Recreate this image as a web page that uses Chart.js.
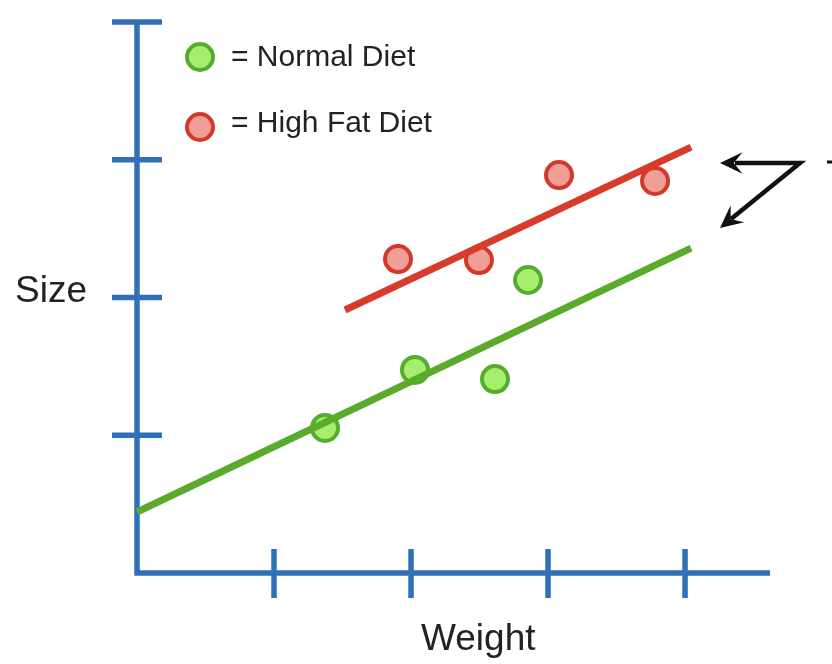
<!DOCTYPE html>
<html>
<head>
<meta charset="utf-8">
<script src="https://cdn.jsdelivr.net/npm/chart.js@4/dist/chart.umd.min.js"></script>
<style>
  html, body { margin: 0; padding: 0; background: #ffffff; }
  #wrap { width: 832px; height: 664px; }
</style>
</head>
<body>
<div id="wrap"><canvas id="c" width="832" height="664"></canvas></div>
<script>
// ---- data ----
const normalX = [1.372, 2.029, 2.613, 2.854];
const normalY = [1.053, 1.474, 1.408, 2.127];
const highFatX = [1.905, 2.496, 3.080, 3.781];
const highFatY = [2.279, 2.272, 2.889, 2.846];
const normalLineX = [0, 4.044];
const normalLineY = [0.443, 2.359];
const highFatLineX = [1.518, 4.044];
const highFatLineY = [1.909, 3.092];
const xTicks = [1, 2, 3, 4];
const yTicks = [1, 2, 3, 4];
const seriesNames = ['= Normal Diet', '= High Fat Diet'];
const xTitle = 'Weight';
const yTitle = 'Size';

const toPts = (xs, ys) => xs.map((x, i) => ({ x: x, y: ys[i] }));

const AXIS = '#3070b6';
const GREEN_LINE = '#5aab2c', GREEN_FILL = '#a6ee6b', GREEN_EDGE = '#55ad2d';
const RED_LINE = '#d83a2b', RED_FILL = '#ef9f98', RED_EDGE = '#d3392b';
const TEXT = '#222222';
const FONT = '"Liberation Sans", Arial, Helvetica, sans-serif';

const decor = {
  id: 'decor',
  beforeDatasetsDraw(chart) {
    const ctx = chart.ctx, xs = chart.scales.x, ys = chart.scales.y;
    const x0 = xs.getPixelForValue(0), y0 = ys.getPixelForValue(0);
    const yTop = ys.getPixelForValue(yTicks[yTicks.length - 1]);
    ctx.save();
    ctx.strokeStyle = AXIS;
    ctx.lineWidth = 5.5;
    ctx.lineCap = 'butt';
    ctx.beginPath();
    ctx.moveTo(x0, yTop); ctx.lineTo(x0, y0 + 2.75);
    ctx.moveTo(x0 - 2.75, y0); ctx.lineTo(chart.chartArea.right, y0);
    yTicks.forEach(v => {
      const p = ys.getPixelForValue(v);
      ctx.moveTo(x0 - 25, p); ctx.lineTo(x0 + 25, p);
    });
    xTicks.forEach(v => {
      const p = xs.getPixelForValue(v);
      ctx.moveTo(p, y0 - 24); ctx.lineTo(p, y0 + 25);
    });
    ctx.stroke();
    ctx.restore();
  },
  afterDraw(chart) {
    const ctx = chart.ctx;
    ctx.save();
    // axis titles
    ctx.fillStyle = TEXT;
    ctx.font = '37px ' + FONT;
    ctx.textBaseline = 'alphabetic';
    ctx.textAlign = 'left';
    ctx.fillText(yTitle, 15, 302);
    ctx.fillText(xTitle, 421, 650);
    // legend
    const items = [
      { ds: chart.data.datasets[0], cy: 57, base: 66 },
      { ds: chart.data.datasets[1], cy: 127, base: 132 }
    ];
    items.forEach((it, i) => {
      ctx.beginPath();
      ctx.arc(200, it.cy, it.ds.pointRadius, 0, Math.PI * 2);
      ctx.fillStyle = it.ds.backgroundColor;
      ctx.fill();
      ctx.lineWidth = it.ds.borderWidth;
      ctx.strokeStyle = it.ds.borderColor;
      ctx.stroke();
      ctx.fillStyle = TEXT;
      ctx.font = '30px ' + FONT;
      ctx.fillText(seriesNames[i], 231, it.base);
    });
    // annotation arrows
    ctx.strokeStyle = '#111';
    ctx.fillStyle = '#111';
    ctx.lineWidth = 4.5;
    ctx.lineJoin = 'miter';
    ctx.beginPath();
    ctx.moveTo(735, 163); ctx.lineTo(800, 163); ctx.lineTo(731, 219);
    ctx.stroke();
    const head = (tx, ty, ang) => {
      const L = 25, W = 0.45;
      ctx.beginPath();
      ctx.moveTo(tx, ty);
      ctx.lineTo(tx + L * Math.cos(ang - W), ty + L * Math.sin(ang - W));
      ctx.lineTo(tx + 0.55 * L * Math.cos(ang), ty + 0.55 * L * Math.sin(ang));
      ctx.lineTo(tx + L * Math.cos(ang + W), ty + L * Math.sin(ang + W));
      ctx.closePath();
      ctx.fill();
    };
    head(720, 163, 0);
    head(720, 228, Math.atan2(163 - 228, 800 - 720));
    ctx.beginPath();
    ctx.moveTo(827, 162); ctx.lineTo(832, 162);
    ctx.lineWidth = 3;
    ctx.stroke();
    ctx.restore();
  }
};

new Chart(document.getElementById('c'), {
  type: 'scatter',
  data: {
    datasets: [
      { label: 'Normal Diet', data: toPts(normalX, normalY), showLine: false,
        pointRadius: 13, pointHoverRadius: 13, borderWidth: 4,
        backgroundColor: GREEN_FILL, borderColor: GREEN_EDGE, order: 2, clip: false },
      { label: 'High Fat Diet', data: toPts(highFatX, highFatY), showLine: false,
        pointRadius: 13, pointHoverRadius: 13, borderWidth: 4,
        backgroundColor: RED_FILL, borderColor: RED_EDGE, order: 2, clip: false },
      { label: 'Normal fit', data: toPts(normalLineX, normalLineY), showLine: true,
        pointRadius: 0, borderWidth: 7, borderColor: GREEN_LINE, borderCapStyle: 'butt',
        order: 1, clip: false },
      { label: 'High fat fit', data: toPts(highFatLineX, highFatLineY), showLine: true,
        pointRadius: 0, borderWidth: 7, borderColor: RED_LINE, borderCapStyle: 'butt',
        order: 1, clip: false }
    ]
  },
  options: {
    responsive: false,
    animation: false,
    devicePixelRatio: 1,
    layout: { padding: { left: 137, right: 62, top: 22, bottom: 91 } },
    plugins: { legend: { display: false }, tooltip: { enabled: false } },
    scales: {
      x: { type: 'linear', min: 0, max: 4.62, display: false },
      y: { type: 'linear', min: 0, max: 4, display: false }
    }
  },
  plugins: [decor]
});
</script>
</body>
</html>
